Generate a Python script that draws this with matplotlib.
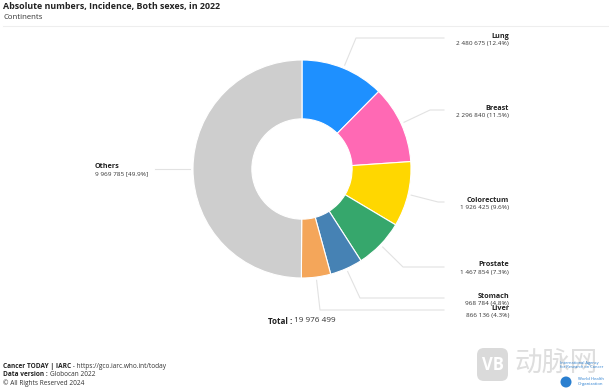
import matplotlib
matplotlib.use("Agg")
import matplotlib.pyplot as plt
import numpy as np
from matplotlib.patches import FancyBboxPatch, Circle

# ---- data ----
cancers = ["Lung", "Breast", "Colorectum", "Prostate", "Stomach", "Liver", "Others"]
counts = [2480675, 2296840, 1926425, 1467854, 968784, 866136, 9969785]
percent_labels = ["12.4%", "11.5%", "9.6%", "7.3%", "4.8%", "4.3%", "49.9%"]
colors = ["#1e90ff", "#ff69b4", "#ffd700", "#36a76c", "#4682b4", "#f4a65a", "#cecece"]
total = 19976499

title = "Absolute numbers, Incidence, Both sexes, in 2022"
subtitle = "Continents"

W, H = 609, 389
fig = plt.figure(figsize=(W / 100, H / 100), dpi=100)
plt.rcParams["font.family"] = ["Open Sans", "DejaVu Sans"]

# donut geometry (pixels)
cx, cy, R = 302, 169, 109
ax = fig.add_axes([(cx - R) / W, (H - cy - R) / H, 2 * R / W, 2 * R / H])
wedges, _ = ax.pie(counts, colors=colors, startangle=90, counterclock=False,
                   radius=1.0, wedgeprops=dict(width=0.54, edgecolor="white", linewidth=0.8))
ax.set_xlim(-1, 1)
ax.set_ylim(-1, 1)
ax.set_aspect("equal")
ax.axis("off")

# overlay in pixel coordinates
ov = fig.add_axes([0, 0, 1, 1], zorder=-1)
ov.set_xlim(0, W)
ov.set_ylim(H, 0)
ov.axis("off")

def fmt(n):
    return f"{n:,}".replace(",", " ")

# separator under subtitle
ov.plot([3, W], [26, 26], color="#eeeeee", lw=0.8)
ov.text(3, 6.5, title, fontsize=6.4, fontweight="bold", va="center", ha="left", color="#222222")
ov.text(3, 17, subtitle, fontsize=5.6, va="center", ha="left", color="#333333")

# label layout (pixels): line y, elbow x
label_y = [38, 110, 202, 267, 298, 310, 169]
elbow_x = [356, 430, 438, 403, 360, 320, 160]
line_end_x = 444
text_x = 509

cum = np.cumsum([0] + counts[:-1])
line_col = "#e2e2e2"
for i, name in enumerate(cancers):
    mid = (cum[i] + counts[i] / 2) / total * 360.0
    th = np.deg2rad(mid)
    r0 = 1.03 * R
    sx, sy = cx + r0 * np.sin(th), cy - r0 * np.cos(th)
    if name == "Others":
        ov.plot([sx, 155], [label_y[i], label_y[i]], color=line_col, lw=0.8)
        ov.text(95, label_y[i] - 3, name, fontsize=5.2, fontweight="bold", ha="left", va="center", color="#222222")
        ov.text(95, label_y[i] + 5, f"{fmt(counts[i])} [{percent_labels[i]}]", fontsize=4.6, ha="left", va="center", color="#333333")
    else:
        ov.plot([sx, elbow_x[i], line_end_x], [sy, label_y[i], label_y[i]], color=line_col, lw=0.8)
        ov.text(text_x, label_y[i] - 2, name, fontsize=5.2, fontweight="bold", ha="right", va="center", color="#222222")
        ov.text(text_x, label_y[i] + 5.5, f"{fmt(counts[i])} ({percent_labels[i]})", fontsize=4.6, ha="right", va="center", color="#333333")

# total
fig.canvas.draw()
rend = fig.canvas.get_renderer()

def two_part(x, y, bold, regular, size, ha="left"):
    t1 = ov.text(x, y, bold, fontsize=size, fontweight="bold", ha="left", va="center", color="#222222")
    bb = t1.get_window_extent(renderer=rend)
    t2 = ov.text(0, y, regular, fontsize=size, ha="left", va="center", color="#333333")
    bb2 = t2.get_window_extent(renderer=rend)
    w1, w2 = bb.width, bb2.width
    if ha == "center":
        start = x - (w1 + w2) / 2
    else:
        start = x
    t1.set_x(start)
    t2.set_x(start + w1)

two_part(302, 321, "Total : ", fmt(total), 5.9, ha="center")

two_part(3, 366, "Cancer TODAY | IARC", " - https://gco.iarc.who.int/today", 4.7)
two_part(3, 375, "Data version : ", "Globocan 2022", 4.7)
ov.text(3, 383.5, "© All Rights Reserved 2024", fontsize=4.7, ha="left", va="center", color="#333333")

# watermark
box = FancyBboxPatch((477, 348), 31, 33, boxstyle="round,pad=0,rounding_size=7",
                     fc="#dadada", ec="none", transform=ov.transData)
ov.add_patch(box)
ov.text(492.5, 364.5, "VB", fontsize=12, fontweight="bold", color="white", ha="center", va="center")
ov.text(514, 364, "动脉网", fontsize=20, color="#dedede", ha="left", va="center",
        family=["Noto Sans CJK SC", "DejaVu Sans"])

# IARC / WHO logos (text)
ov.text(560, 365, "International Agency\nfor Research on Cancer", fontsize=2.9, color="#2a7fd0",
        ha="left", va="center", linespacing=1.15)
ov.add_patch(Circle((566, 382), 5.5, fc="#2a7fd0", ec="none"))
ov.text(578, 381.5, "World Health\nOrganization", fontsize=3.1, color="#2a7fd0",
        ha="left", va="center", linespacing=1.1)

fig.savefig("out.png", dpi=100)
